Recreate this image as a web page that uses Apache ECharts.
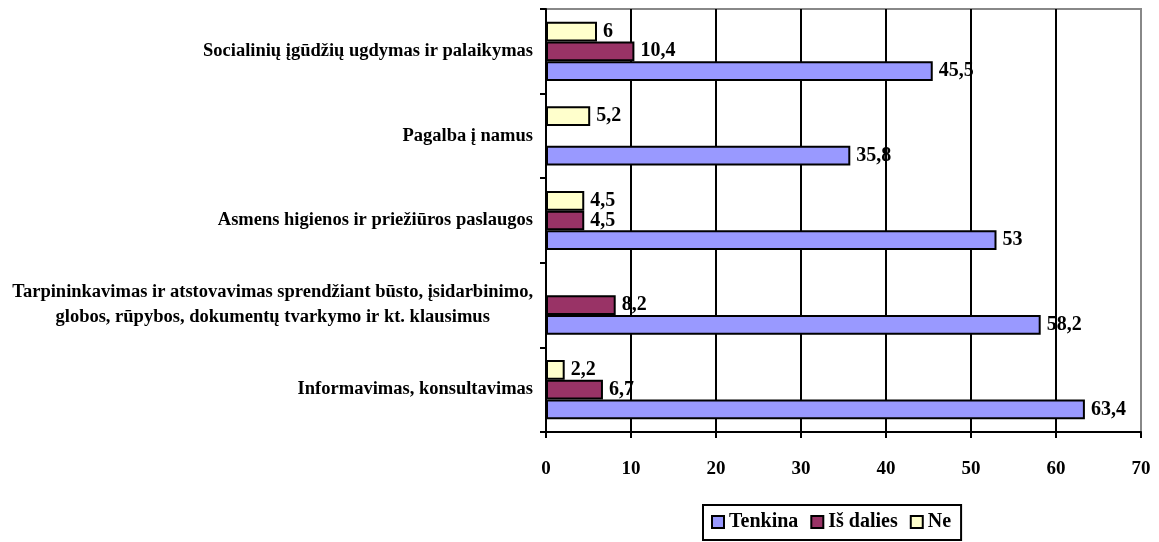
<!DOCTYPE html>
<html>
<head>
<meta charset="utf-8">
<script src="https://cdn.jsdelivr.net/npm/echarts@6/dist/echarts.min.js"></script>
<style>
  html, body { margin: 0; padding: 0; background: #fff; }
  #chart { width: 1159px; height: 542px; }
</style>
</head>
<body>
<div id="chart"></div>
<script>
// categories, bottom to top
const categories = [
  'Informavimas, konsultavimas',
  'Tarpininkavimas ir atstovavimas sprendžiant būsto, įsidarbinimo,\nglobos, rūpybos, dokumentų tvarkymo ir kt. klausimus',
  'Asmens higienos ir priežiūros paslaugos',
  'Pagalba į namus',
  'Socialinių įgūdžių ugdymas ir palaikymas'
]
const tenkina = [63.4, 58.2, 53, 35.8, 45.5]
const isDalies = [6.7, 8.2, 4.5, null, 10.4]
const ne = [2.2, null, 4.5, 5.2, 6]
const xTicks = [0, 10, 20, 30, 40, 50, 60, 70]
const legendNames = ['Tenkina', 'Iš dalies', 'Ne']

const font = '"Liberation Serif", "Times New Roman", serif'

const chart = echarts.init(document.getElementById('chart'))

function barSeries (name, data, color) {
  return {
    name: name,
    type: 'bar',
    data: data,
    barGap: '0%',
    barCategoryGap: '30%',
    itemStyle: { color: color, borderColor: '#000', borderWidth: 2 },
    label: {
      show: true,
      position: 'right',
      distance: 6,
      color: '#000',
      fontFamily: font,
      fontWeight: 'bold',
      fontSize: 20,
      formatter: p => String(p.value).replace('.', ',')
    }
  }
}

const options = {
  animation: false,
  grid: {
    left: 546,
    right: 18,
    top: 9,
    bottom: 110,
    show: true,
    borderColor: '#888',
    borderWidth: 2
  },
  legend: {
    top: 505,
    left: 703,
    icon: 'rect',
    itemWidth: 12,
    itemHeight: 12,
    itemGap: 12,
    padding: [7, 10, 8, 8],
    borderColor: '#000',
    borderWidth: 2,
    textStyle: { fontFamily: font, fontWeight: 'bold', fontSize: 20, color: '#000' },
    data: legendNames.map(n => ({ name: n, itemStyle: { borderColor: '#000', borderWidth: 2 } }))
  },
  xAxis: {
    type: 'value',
    min: xTicks[0],
    max: xTicks[xTicks.length - 1],
    interval: 10,
    axisLine: { show: true, lineStyle: { color: '#000', width: 2 } },
    axisTick: { show: true, length: 6, lineStyle: { color: '#000', width: 2 } },
    axisLabel: { color: '#000', fontFamily: font, fontWeight: 'bold', fontSize: 19, margin: 28 },
    splitLine: { show: true, showMinLine: false, showMaxLine: false, lineStyle: { color: '#000', width: 2 } }
  },
  yAxis: {
    type: 'category',
    data: categories,
    axisLine: { show: true, lineStyle: { color: '#000', width: 2 } },
    axisTick: { show: true, length: 6, lineStyle: { color: '#000', width: 2 } },
    axisLabel: {
      color: '#000',
      fontFamily: font,
      fontWeight: 'bold',
      fontSize: 18.5,
      margin: 13,
      lineHeight: 25,
      formatter: v => v.split('\n').map(s => '{c|' + s + '}').join('\n'),
      rich: { c: { align: 'center', fontFamily: font, fontWeight: 'bold', fontSize: 18.5, color: '#000', lineHeight: 25 } }
    },
    splitLine: { show: false }
  },
  // first series sits at the top of each group, so Ne goes first
  series: [
    barSeries('Ne', ne, '#FFFFCC'),
    barSeries('Iš dalies', isDalies, '#993366'),
    barSeries('Tenkina', tenkina, '#9999FF')
  ]
}

chart.setOption(options)
</script>
</body>
</html>
